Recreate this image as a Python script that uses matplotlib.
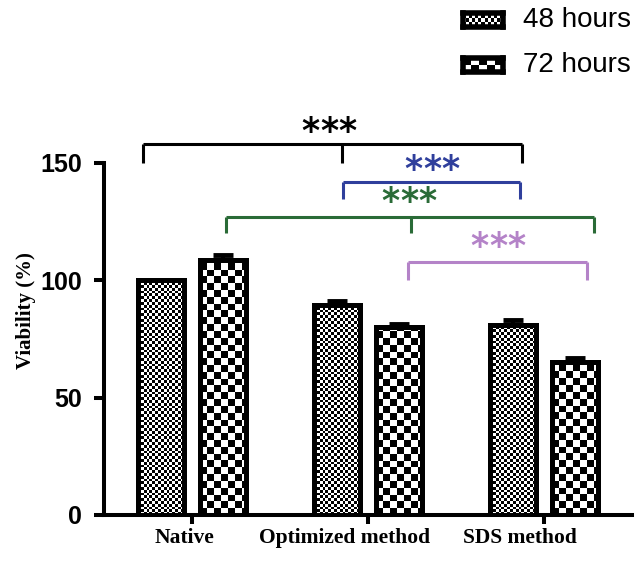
import numpy as np
import matplotlib
matplotlib.use("Agg")
import matplotlib.pyplot as plt
from matplotlib.transforms import ScaledTranslation

categories = ["Native", "Optimized method", "SDS method"]
series_names = ["48 hours", "72 hours"]
values_48 = [100.0, 89.5, 81.0]
errors_48 = [0.0, 1.5, 2.0]
values_72 = [108.8, 80.0, 65.2]
errors_72 = [1.8, 1.5, 1.6]
yticks = [0, 50, 100, 150]
ylabel = "Viability (%)"
sig_label = "***"

# brackets: (x points, y line, y tick bottom, star x, star y, color)
brackets = [
    ([-0.277, 0.854, 1.877], 158.3, 150.2, 0.78, 163.0, "#000000"),
    ([0.86, 1.865], 141.7, 134.5, 1.365, 147.2, "#2f3f9c"),
    ([0.195, 1.246, 2.286], 127.2, 120.0, 1.235, 133.2, "#2a6b37"),
    ([1.229, 2.246], 107.7, 100.0, 1.74, 114.2, "#b483c8"),
]

W, H = 637, 564
fig = plt.figure(figsize=(W / 100, H / 100), dpi=100)
ax_left, ax_right, ax_bot, ax_top = 104, 632, 515, 163
ax = fig.add_axes([ax_left / W, 1 - ax_bot / H, (ax_right - ax_left) / W, (ax_bot - ax_top) / H])
ax.set_xlim(-0.5, 2.5)
ax.set_ylim(0, 150)

x = np.arange(len(categories))
width = 0.262
offset = 0.175
cells = [2.8, 6.8]

bars48 = ax.bar(x - offset, values_48, width, facecolor="none", edgecolor="black",
                linewidth=3.6, zorder=3)
bars72 = ax.bar(x + offset, values_72, width, facecolor="none", edgecolor="black",
                linewidth=3.6, zorder=3)
ax.errorbar(x - offset, values_48, yerr=[np.zeros(3), errors_48], fmt="none",
            ecolor="black", elinewidth=3, capsize=7, capthick=3.5, zorder=2.5)
ax.errorbar(x + offset, values_72, yerr=[np.zeros(3), errors_72], fmt="none",
            ecolor="black", elinewidth=3, capsize=7, capthick=3.5, zorder=2.5)


def checker(ny, nx):
    return np.add.outer(np.arange(ny), np.arange(nx)) % 2


for bars, cell in zip([bars48, bars72], cells):
    for rect in bars:
        x0, y0 = rect.get_x(), rect.get_y()
        w, h = rect.get_width(), rect.get_height()
        p0 = ax.transData.transform((x0, y0))
        p1 = ax.transData.transform((x0 + w, y0 + h))
        wpx, hpx = p1 - p0
        nx = int(np.ceil(wpx / cell))
        ny = int(np.ceil(hpx / cell))
        pxu_x = wpx / w
        pxu_y = hpx / h
        im = ax.imshow(checker(ny, nx), cmap="gray", vmin=0, vmax=1,
                       extent=(x0, x0 + nx * cell / pxu_x, y0, y0 + ny * cell / pxu_y),
                       origin="lower", interpolation="nearest", aspect="auto", zorder=2)
        im.set_clip_path(rect)

ax.set_xlim(-0.5, 2.5)
ax.set_ylim(0, 150)

for s in ["top", "right"]:
    ax.spines[s].set_visible(False)
for s in ["left", "bottom"]:
    ax.spines[s].set_linewidth(2.9)

ax.set_yticks(yticks)
ax.set_yticklabels([str(t) for t in yticks], fontfamily="Liberation Sans",
                   fontweight="bold", fontsize=18)
ax.set_xticks(x)
ax.set_xticklabels(categories, fontfamily="Liberation Serif", fontweight="bold",
                   fontsize=15.5)
ax.tick_params(axis="y", length=7, width=2.9, pad=9)
ax.tick_params(axis="x", length=6.5, width=2.9, pad=3)

# label shifts (pixels) as in the reference export
label_shift_px = [-8, -23, -24]
for lab, dx in zip(ax.get_xticklabels(), label_shift_px):
    lab.set_transform(lab.get_transform() + ScaledTranslation(dx / 100, 0, fig.dpi_scale_trans))

ax.set_ylabel(ylabel, fontfamily="Liberation Serif", fontweight="bold", fontsize=15)
ax.yaxis.set_label_coords((36 - ax_left) / (ax_right - ax_left), 0.58)

star_pitch_px = 18.5
for xs, yl, yb, sx, sy, col in brackets:
    ax.plot([xs[0], xs[-1]], [yl, yl], color=col, lw=2.2, clip_on=False,
            solid_capstyle="butt", zorder=4)
    for xx in xs:
        ax.plot([xx, xx], [yb, yl], color=col, lw=2.2, clip_on=False,
                solid_capstyle="butt", zorder=4)
    n = len(sig_label)
    for k, ch in enumerate(sig_label):
        dx = (k - (n - 1) / 2) * star_pitch_px / 100
        ax.text(sx, sy, ch, color=col, fontsize=25, fontweight="bold",
                fontfamily="DejaVu Sans", ha="center", va="center", clip_on=False,
                transform=ax.transData + ScaledTranslation(dx, 0, fig.dpi_scale_trans))

# legend
leg_items = [(series_names[0], cells[0], 13), (series_names[1], cells[1], 58)]
for name, cell, ytop in leg_items:
    sw_w, sw_h = 40, 14
    lax = fig.add_axes([463 / W, 1 - (ytop + sw_h) / H, sw_w / W, sw_h / H])
    ny = max(1, int(np.ceil((sw_h - 6) / cell)))
    nx = int(np.ceil((sw_w - 6) / cell))
    lax.imshow(checker(ny, nx), cmap="gray", vmin=0, vmax=1, aspect="auto",
               interpolation="nearest")
    lax.set_xticks([])
    lax.set_yticks([])
    for sp in lax.spines.values():
        sp.set_linewidth(4)
        sp.set_color("black")
    fig.text(523 / W, 1 - (ytop + sw_h / 2) / H, name, fontsize=20,
             fontfamily="Liberation Sans", ha="left", va="center")

fig.savefig("out.png", dpi=100)
